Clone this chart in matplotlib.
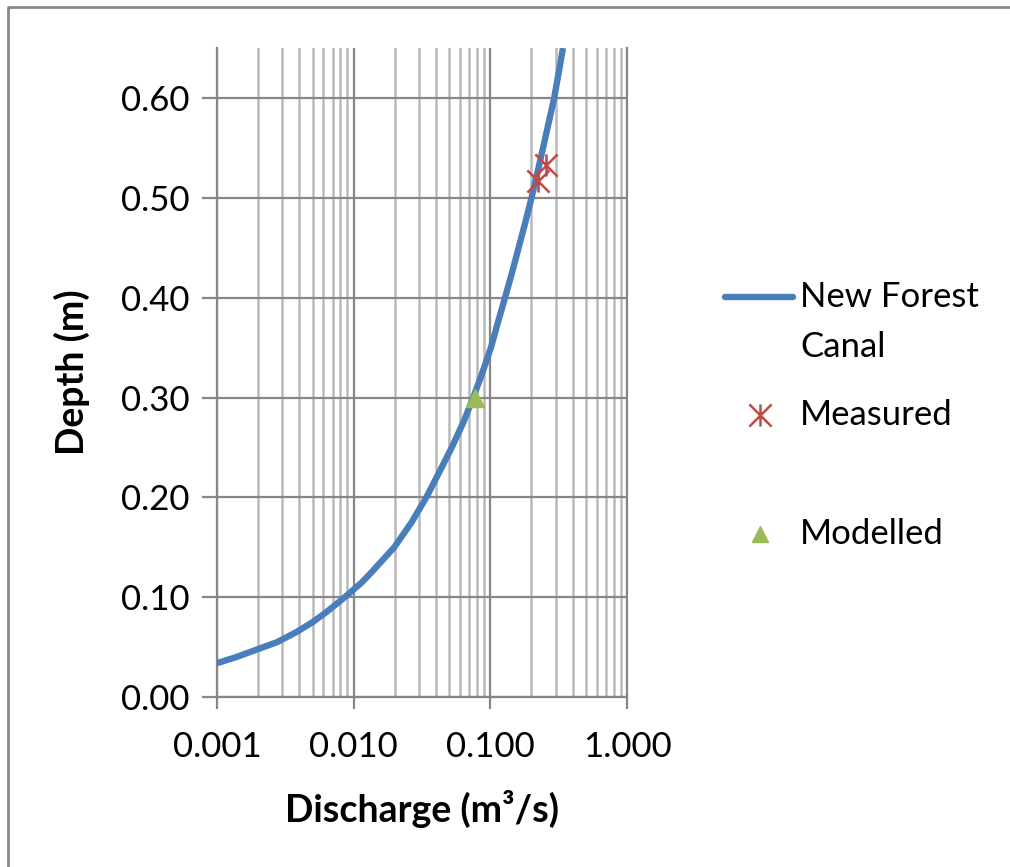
import numpy as np
import matplotlib.pyplot as plt
from matplotlib.lines import Line2D
from matplotlib.path import Path
from matplotlib.ticker import FormatStrFormatter, LogLocator, MultipleLocator, NullFormatter

# ===== DATA =====
curve_depth = [0.034, 0.040, 0.047, 0.055, 0.065, 0.075, 0.085, 0.100, 0.115, 0.125,
               0.150, 0.175, 0.200, 0.225, 0.250, 0.275, 0.300, 0.325, 0.350, 0.375,
               0.400, 0.425, 0.450, 0.475, 0.500, 0.525, 0.550, 0.575, 0.600, 0.625, 0.650]
curve_flow = [0.0010, 0.00138, 0.0019, 0.00275, 0.0038, 0.0050, 0.0063, 0.0086, 0.0115, 0.0135,
              0.0198, 0.0265, 0.0340, 0.0422, 0.0522, 0.0634, 0.0750, 0.0875, 0.101, 0.1135,
              0.128, 0.144, 0.161, 0.180, 0.200, 0.221, 0.243, 0.267, 0.293, 0.316, 0.340]

measured_flow = [0.222, 0.254]
measured_depth = [0.517, 0.533]

modelled_flow = [0.077]
modelled_depth = [0.30]

labels = ["New Forest\nCanal", "Measured", "Modelled"]

# ===== STYLE =====
plt.rcParams['font.family'] = ['Lato', 'DejaVu Sans']
blue = '#4a7ebb'
red = '#be4b48'
green = '#9bbb59'
major_grey = '#878787'
minor_grey = '#b9b9b9'
tick_size = 25
label_size = 27

# excel style "star": an X with a vertical bar through it
star = Path([(-1, -1), (1, 1), (-1, 1), (1, -1), (0, -1), (0, 1)],
            [Path.MOVETO, Path.LINETO, Path.MOVETO, Path.LINETO, Path.MOVETO, Path.LINETO])

# ===== SETUP PLOT =====
fig = plt.figure(figsize=(10.1, 8.67), dpi=100)
ax = fig.add_axes([0.2149, 0.196, 0.4059, 0.7486])

ax.plot(curve_flow, curve_depth, color=blue, lw=4.6, solid_capstyle='butt',
        solid_joinstyle='round', zorder=3)
ax.plot(measured_flow, measured_depth, ls='none', marker=star, ms=16, mfc='none',
        mec=red, mew=1.8, zorder=4)
ax.plot(modelled_flow, modelled_depth, ls='none', marker='^', ms=13, color=green,
        mec=green, zorder=4)

ax.set_xscale('log')
ax.set_xlim(0.001, 1.0)
ax.set_ylim(0, 0.65)
ax.xaxis.set_major_locator(LogLocator(base=10, numticks=10))
ax.xaxis.set_minor_locator(LogLocator(base=10, subs=np.arange(2, 10), numticks=100))
ax.xaxis.set_major_formatter(FormatStrFormatter('%.3f'))
ax.xaxis.set_minor_formatter(NullFormatter())
ax.yaxis.set_major_locator(MultipleLocator(0.1))
ax.yaxis.set_major_formatter(FormatStrFormatter('%.2f'))

ax.grid(which='major', color=major_grey, lw=1.6)
ax.grid(which='minor', axis='x', color=minor_grey, lw=1.8)
ax.set_axisbelow(True)

for side in ['left', 'bottom', 'right']:
    ax.spines[side].set_color(major_grey)
    ax.spines[side].set_linewidth(1.6)
ax.spines['top'].set_visible(False)

ax.tick_params(axis='x', which='major', direction='out', length=8.5, width=1.6,
               color=major_grey, labelsize=tick_size, pad=16)
ax.tick_params(axis='y', which='major', direction='out', length=11, width=1.6,
               color=major_grey, labelsize=tick_size, pad=9)
ax.tick_params(which='minor', length=0)

ax.set_xlabel('Discharge (m³/s)', fontsize=label_size, fontweight='bold', labelpad=19)
ax.set_ylabel('Depth (m)', fontsize=label_size, fontweight='bold', labelpad=22)

# ===== LEGEND (drawn by hand to keep the excel layout) =====
fig.add_artist(Line2D([0.7178, 0.7851], [0.6574, 0.6574], color=blue, lw=4.6,
                      solid_capstyle='round', transform=fig.transFigure))
fig.add_artist(Line2D([0.7525], [0.5213], ls='none', marker=star, ms=16, mfc='none',
                      mec=red, mew=1.8, transform=fig.transFigure))
fig.add_artist(Line2D([0.7525], [0.3841], ls='none', marker='^', ms=12, color=green,
                      transform=fig.transFigure))

first, second = labels[0].split('\n')
fig.text(0.792, 0.6574, first, fontsize=tick_size, va='center', ha='left')
fig.text(0.792, 0.5998, second, fontsize=tick_size, va='center', ha='left')
fig.text(0.792, 0.5213, labels[1], fontsize=tick_size, va='center', ha='left')
fig.text(0.792, 0.3841, labels[2], fontsize=tick_size, va='center', ha='left')

# outer chart border (only top and left visible in the original crop)
fig.add_artist(Line2D([0.0075, 0.0075, 1.0], [0.0, 0.9915, 0.9915], color='#888888', lw=2,
                      transform=fig.transFigure))

fig.savefig('out.png', dpi=100)
